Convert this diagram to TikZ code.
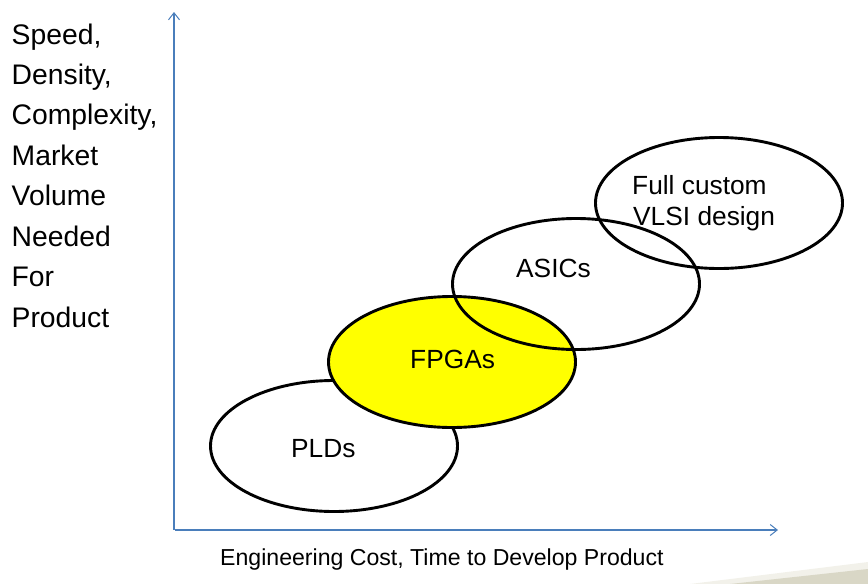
\documentclass[tikz,border=0pt]{standalone}
\usepackage{fontspec}
\setmainfont{Liberation Sans}
\usetikzlibrary{shapes,positioning,arrows.meta}
\definecolor{axisblue}{HTML}{4A7EBB}
\definecolor{fpgayellow}{HTML}{FFFF00}
\definecolor{floorlight}{HTML}{F2F1EA}
\definecolor{floordark}{HTML}{D9D7C6}

\begin{document}
\begin{tikzpicture}[
    x=1pt, y=-1pt,
    chip/.style ={
        ellipse,
        draw=black,
        line width=2.9pt,
        minimum width=247pt,
        minimum height=131pt,
        inner sep=0pt
    },
    lbl/.style ={
        inner sep=0pt,
        anchor=base west,
        font=\fontsize{26.3}{31}\selectfont
    },
    ax/.style ={
        axisblue,
        line width=1.4pt,
        -{Straight Barb[length=7pt,width=11pt,line width=1pt]}
    }
    ]
    \useasboundingbox (0,0) rectangle (868,584);

    % slide floor, bottom right
    \fill[floorlight] (690,584) -- (868,562) -- (868,584) -- cycle;
    \fill[floordark] (730,584) -- (868,569) -- (868,584) -- cycle;

    % axes
    \coordinate (yfoot) at (174,530);
    \coordinate (ytip) at (174,12);
    \coordinate (xfoot) at (175,530);
    \coordinate (xtip) at (778,530);
    \draw[ax] (yfoot) -- (ytip);
    \draw[ax] (xfoot) -- (xtip);

    \foreach \txt [count=\i] in {{Speed,}, {Density,}, {Complexity,}, Market, Volume, Needed, For, Product}
        \node[lbl, font=\fontsize{28.3}{33}\selectfont] (side\i) at (11.5, {44+40.43*(\i-1)}) {\txt};

    \node[lbl, font=\fontsize{23.1}{28}\selectfont] (xlabel) at (220,565) {Engineering Cost, Time to Develop Product};

    \foreach \name/ \pos/ \fillc in {{pld/(334,446)/none}, {fpga/(452,362)/fpgayellow},
                                     {asic/(576,284)/none}, {full/(719,203)/none}}
        \node[chip, fill=\fillc] (\name) at \pos {};

    \node[lbl] (pldtxt) at (291,457) {PLDs};
    \node[lbl] (fpgatxt) at (410,368) {FPGAs};
    \node[lbl] (asictxt) at (516,277) {ASICs};
    \node[lbl] (fulltxt) at (632,194) {Full custom};
    \node[lbl] (vlsitxt) at (633,225) {VLSI design};
\end{tikzpicture}
\end{document}
